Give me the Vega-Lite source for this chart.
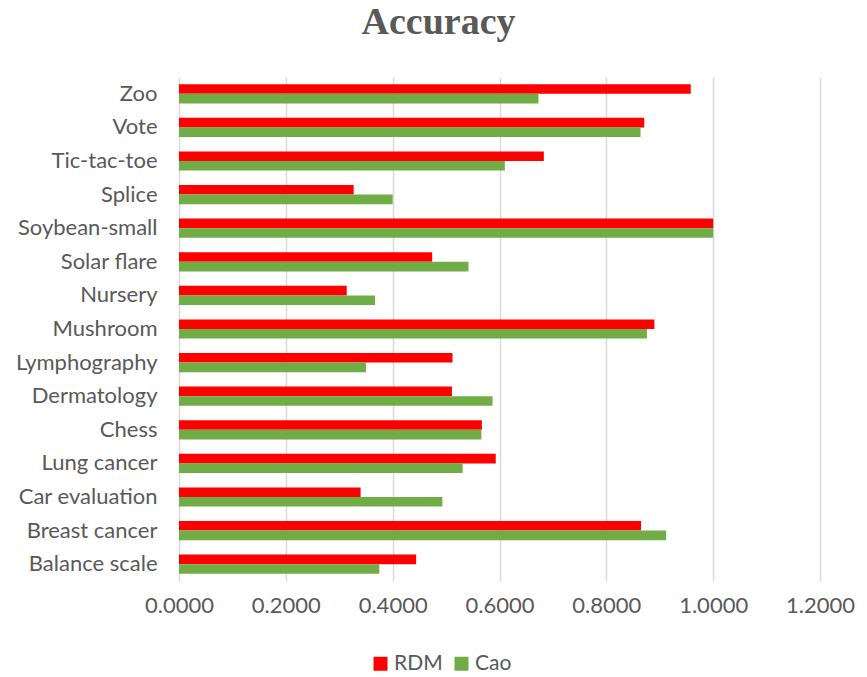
{
  "$schema": "https://vega.github.io/schema/vega-lite/v6.json",
  "width": 641,
  "height": 504,
  "autosize": "none",
  "padding": {"left": 179, "top": 77, "right": 47, "bottom": 96},
  "background": "white",
  "title": {
    "text": "Accuracy",
    "font": "Liberation Serif",
    "fontSize": 38,
    "fontWeight": "bold",
    "color": "#595959",
    "anchor": "middle",
    "baseline": "alphabetic",
    "offset": 41,
    "dx": -61,
    "dy": 36
  },
  "data": {
    "values": [
      {"dataset": "Zoo", "method": "RDM", "accuracy": 0.958},
      {"dataset": "Zoo", "method": "Cao", "accuracy": 0.673},
      {"dataset": "Vote", "method": "RDM", "accuracy": 0.871},
      {"dataset": "Vote", "method": "Cao", "accuracy": 0.864},
      {"dataset": "Tic-tac-toe", "method": "RDM", "accuracy": 0.683},
      {"dataset": "Tic-tac-toe", "method": "Cao", "accuracy": 0.610},
      {"dataset": "Splice", "method": "RDM", "accuracy": 0.327},
      {"dataset": "Splice", "method": "Cao", "accuracy": 0.400},
      {"dataset": "Soybean-small", "method": "RDM", "accuracy": 1.0},
      {"dataset": "Soybean-small", "method": "Cao", "accuracy": 1.0},
      {"dataset": "Solar flare", "method": "RDM", "accuracy": 0.474},
      {"dataset": "Solar flare", "method": "Cao", "accuracy": 0.542},
      {"dataset": "Nursery", "method": "RDM", "accuracy": 0.314},
      {"dataset": "Nursery", "method": "Cao", "accuracy": 0.367},
      {"dataset": "Mushroom", "method": "RDM", "accuracy": 0.890},
      {"dataset": "Mushroom", "method": "Cao", "accuracy": 0.876},
      {"dataset": "Lymphography", "method": "RDM", "accuracy": 0.512},
      {"dataset": "Lymphography", "method": "Cao", "accuracy": 0.350},
      {"dataset": "Dermatology", "method": "RDM", "accuracy": 0.511},
      {"dataset": "Dermatology", "method": "Cao", "accuracy": 0.587},
      {"dataset": "Chess", "method": "RDM", "accuracy": 0.567},
      {"dataset": "Chess", "method": "Cao", "accuracy": 0.566},
      {"dataset": "Lung cancer", "method": "RDM", "accuracy": 0.593},
      {"dataset": "Lung cancer", "method": "Cao", "accuracy": 0.531},
      {"dataset": "Car evaluation", "method": "RDM", "accuracy": 0.340},
      {"dataset": "Car evaluation", "method": "Cao", "accuracy": 0.493},
      {"dataset": "Breast cancer", "method": "RDM", "accuracy": 0.865},
      {"dataset": "Breast cancer", "method": "Cao", "accuracy": 0.912},
      {"dataset": "Balance scale", "method": "RDM", "accuracy": 0.444},
      {"dataset": "Balance scale", "method": "Cao", "accuracy": 0.375}
    ]
  },
  "mark": {"type": "bar", "cornerRadius": 0},
  "encoding": {
    "y": {
      "field": "dataset",
      "type": "nominal",
      "sort": ["Zoo", "Vote", "Tic-tac-toe", "Splice", "Soybean-small", "Solar flare", "Nursery", "Mushroom", "Lymphography", "Dermatology", "Chess", "Lung cancer", "Car evaluation", "Breast cancer", "Balance scale"],
      "scale": {"paddingInner": 0.43, "paddingOuter": 0.215},
      "axis": {
        "title": null,
        "domain": false,
        "ticks": false,
        "grid": false,
        "labelFont": "Lato",
        "labelFontSize": 22,
        "labelColor": "#595959",
        "labelPadding": 22
      }
    },
    "yOffset": {
      "field": "method",
      "type": "nominal",
      "sort": ["RDM", "Cao"],
      "scale": {"paddingInner": 0, "paddingOuter": 0}
    },
    "x": {
      "field": "accuracy",
      "type": "quantitative",
      "scale": {"domain": [0, 1.2], "nice": false, "zero": true},
      "axis": {
        "title": null,
        "values": [0, 0.2, 0.4, 0.6, 0.8, 1.0, 1.2],
        "format": ".4f",
        "domain": false,
        "ticks": false,
        "grid": true,
        "gridColor": "#d9d9d9",
        "gridWidth": 1.5,
        "labelFlush": false,
        "labelFont": "Lato",
        "labelFontSize": 22,
        "labelColor": "#595959",
        "labelPadding": 14
      }
    },
    "color": {
      "field": "method",
      "type": "nominal",
      "sort": ["RDM", "Cao"],
      "scale": {"domain": ["RDM", "Cao"], "range": ["#ff0000", "#70ad47"]},
      "legend": {
        "title": null,
        "orient": "none",
        "direction": "horizontal",
        "legendX": 191,
        "legendY": 576,
        "padding": 0,
        "symbolType": "square",
        "symbolSize": 196,
        "symbolStrokeWidth": 0,
        "labelFont": "Lato",
        "labelFontSize": 21,
        "labelColor": "#595959",
        "labelOffset": 3,
        "columnPadding": 8
      }
    }
  },
  "config": {"view": {"stroke": null}}
}
